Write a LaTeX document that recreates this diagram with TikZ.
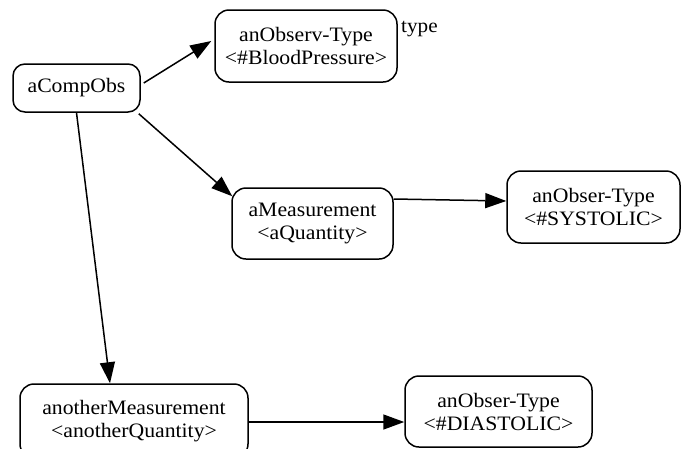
\documentclass[tikz,border=0pt]{standalone}
\usepackage{fontspec}
\setmainfont{Liberation Serif}[FakeStretch=1.06]
\usetikzlibrary{arrows.meta}
\begin{document}
\begin{tikzpicture}[x=1pt,y=-1pt,
  objbox/.style={draw=black,line width=1.5pt,rounded corners=14pt,inner sep=0pt,
    align=center,font=\fontsize{20.5}{23}\selectfont},
  arr/.style={draw=black,line width=1.5pt,-{Triangle[length=21pt,width=15pt]}}]
\useasboundingbox (0,0) rectangle (681,448);
% object nodes
\node[objbox,rounded corners=12pt,minimum width=127pt,minimum height=48pt] (c) at (76.5,88) {aCompObs};
\node[objbox,minimum width=182pt,minimum height=72pt] (o) at (306,46) {anObserv-Type\\<\#BloodPressure>};
\node[objbox,minimum width=161pt,minimum height=71pt] (m) at (312.5,223.5) {aMeasurement\\<aQuantity>};
\node[objbox,minimum width=173pt,minimum height=72pt] (s) at (593.5,207) {anObser-Type\\<\#SYSTOLIC>};
\node[objbox,minimum width=228pt,minimum height=74pt] (a) at (134,421) {anotherMeasurement\\<anotherQuantity>};
\node[objbox,minimum width=187pt,minimum height=71pt] (d) at (498.5,411.5) {anObser-Type\\<\#DIASTOLIC>};
% label beside the type object
\node[anchor=base west,inner sep=0pt,font=\fontsize{20}{23}\selectfont] (t) at (401,32) {type};
% connectors
\draw[arr] ([xshift=3pt,yshift=5pt]c.east) -- ([xshift=-3pt,yshift=5pt]o.west);
\draw[arr] ([xshift=-2pt,yshift=-1pt]c.south east) -- ([xshift=1pt,yshift=-9pt]m.north west);
\draw[arr] (c.south) -- ([xshift=-24pt]a.north);
\draw[arr] ([yshift=24.5pt]m.east) -- ([yshift=6pt]s.west);
\draw[arr] ([yshift=-1pt]a.east) -- ([yshift=-10.5pt]d.west);
\end{tikzpicture}
\end{document}
